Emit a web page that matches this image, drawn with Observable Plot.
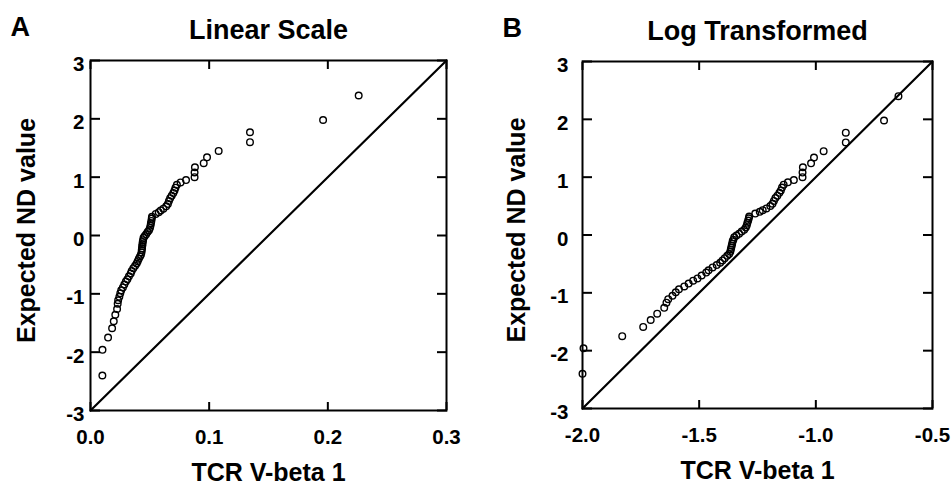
<!DOCTYPE html>
<html><head><meta charset="utf-8">
<script src="https://cdn.jsdelivr.net/npm/d3@7"></script>
<script src="https://cdn.jsdelivr.net/npm/@observablehq/plot@0.6"></script>
<style>
html,body{margin:0;padding:0;background:#fff;}
#wrap{display:flex;width:952px;height:484px;overflow:hidden;}
</style></head><body><div id="wrap"></div>
<script>
// TCR V-beta 1 (linear fraction), sorted
const tcrVbeta1 = [0.0100,0.0101,0.0148,0.0182,0.0196,0.0209,0.0224,0.0229,0.0233,0.0243,
  0.0251,0.0259,0.0273,0.0285,0.0298,0.0311,0.0324,0.0339,0.0347,0.0361,
  0.0376,0.0389,0.0398,0.0407,0.0417,0.0425,0.0430,0.0432,0.0434,0.0436,
  0.0438,0.0440,0.0443,0.0447,0.0457,0.0469,0.0481,0.0493,0.0501,0.0506,
  0.0509,0.0513,0.0516,0.0518,0.0550,0.0575,0.0592,0.0614,0.0638,0.0652,
  0.0661,0.0671,0.0684,0.0698,0.0708,0.0716,0.0728,0.0759,0.0805,0.0877,
  0.0877,0.0880,0.0954,0.0982,0.1080,0.1344,0.1344,0.1960,0.2260];
// Expected normal-distribution values
const expectedND = [-2.40,-1.96,-1.75,-1.59,-1.47,-1.36,-1.26,-1.17,-1.11,-1.05,
  -0.99,-0.94,-0.89,-0.84,-0.79,-0.75,-0.70,-0.65,-0.61,-0.56,
  -0.52,-0.48,-0.44,-0.40,-0.36,-0.33,-0.29,-0.25,-0.22,-0.18,
  -0.15,-0.11,-0.08,-0.04,-0.01,0.02,0.06,0.09,0.13,0.17,
  0.21,0.25,0.29,0.32,0.37,0.40,0.43,0.46,0.50,0.54,
  0.59,0.64,0.68,0.73,0.77,0.82,0.87,0.91,0.95,1.00,
  1.08,1.17,1.24,1.34,1.45,1.60,1.77,1.98,2.40];
const xTicksLinear = [0.0, 0.1, 0.2, 0.3];
const xTicksLog = [-2.0, -1.5, -1.0, -0.5];
const yTicks = [-3, -2, -1, 0, 1, 2, 3];
const refLineLinear = [{x: 0.0, y: -3}, {x: 0.3, y: 3}];
const refLineLog = [{x: -2.0, y: -3}, {x: -0.5, y: 3}];
const panelLetters = ["A", "B"];
const panelTitles = ["Linear Scale", "Log Transformed"];
const xTitle = "TCR V-beta 1";
const yTitle = "Expected ND value";

const points = tcrVbeta1.map((v, i) => ({lin: v, log: Math.log10(v), nd: expectedND[i]}));

function panel({letter, title, xKey, xDomain, xTicks, ref, margins, yPad, yTitleDx}) {
  return Plot.plot({
    width: 476, height: 484, ...margins,
    x: {domain: xDomain}, y: {domain: [-3, 3]},
    style: {fontFamily: "'Liberation Sans', Arial, sans-serif", fontWeight: "bold", fontSize: "20px", color: "black", background: "white", overflow: "visible"},
    marks: [
      Plot.axisX(xTicks, {anchor: "bottom", tickSize: 0, tickPadding: 19, fontSize: 20.5, tickFormat: d => d.toFixed(1), label: null}),
      Plot.axisX(xTicks, {anchor: "bottom", tickSize: -8, strokeWidth: 2, tickFormat: () => "", label: null}),
      Plot.axisX(xTicks, {anchor: "top", tickSize: -8, strokeWidth: 2, tickFormat: () => "", label: null}),
      Plot.axisY(yTicks, {anchor: "left", tickSize: 0, tickPadding: yPad, dy: 4, fontSize: 20.5, tickFormat: d => String(d), label: null}),
      Plot.axisY(yTicks, {anchor: "left", tickSize: -10, strokeWidth: 2, tickFormat: () => "", label: null}),
      Plot.axisY(yTicks, {anchor: "right", tickSize: -10, strokeWidth: 2, tickFormat: () => "", label: null}),
      Plot.frame({strokeWidth: 2}),
      Plot.line(ref, {x: "x", y: "y", strokeWidth: 2.2}),
      Plot.dot(points, {x: xKey, y: "nd", r: 3.3, stroke: "black", strokeWidth: 1.4, fill: "none"}),
      Plot.text([title], {text: d => d, frameAnchor: "top", dy: -22, lineAnchor: "bottom", fontSize: 27}),
      Plot.text([letter], {text: d => d, frameAnchor: "top-left", textAnchor: "start", dx: -80, dy: -25, lineAnchor: "bottom", fontSize: 27}),
      Plot.text([xTitle], {text: d => d, frameAnchor: "bottom", dy: 70, lineAnchor: "bottom", fontSize: 25}),
      Plot.text([yTitle], {text: d => d, frameAnchor: "left", textAnchor: "middle", rotate: -90, dx: yTitleDx, dy: -5, fontSize: 25})
    ]
  });
}

const wrap = document.getElementById("wrap");
wrap.append(panel({letter: panelLetters[0], title: panelTitles[0], xKey: "lin", xDomain: [0, 0.3], xTicks: xTicksLinear, ref: refLineLinear,
  margins: {marginLeft: 90, marginRight: 30, marginTop: 60, marginBottom: 74}, yPad: 6, yTitleDx: -64}));
wrap.append(panel({letter: panelLetters[1], title: panelTitles[1], xKey: "log", xDomain: [-2.0, -0.5], xTicks: xTicksLog, ref: refLineLog,
  margins: {marginLeft: 106, marginRight: 20, marginTop: 61, marginBottom: 76}, yPad: 14, yTitleDx: -66}));
</script></body></html>
